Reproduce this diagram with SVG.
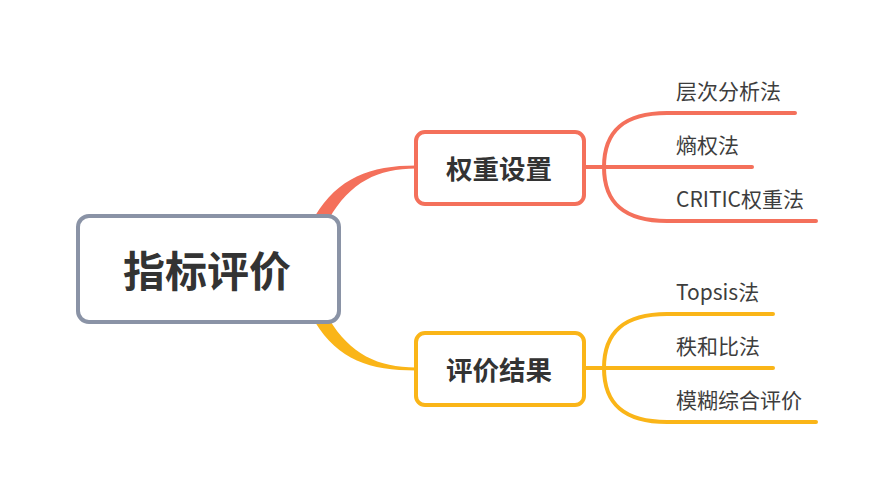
<svg xmlns="http://www.w3.org/2000/svg" width="891" height="499" viewBox="0 0 891 499">
<style>
text{font-family:"Noto Sans CJK SC","Noto Sans",sans-serif;fill:#333333}
.leaf{font-size:21px;fill:#3d3d3d}
.branch{font-size:26.5px;font-weight:bold;text-anchor:middle;dominant-baseline:central}
.root{font-size:42px;font-weight:bold;text-anchor:middle;dominant-baseline:central}
.r{stroke:#F4705B;fill:none;stroke-width:4;stroke-linecap:round}
.y{stroke:#FAB518;fill:none;stroke-width:4;stroke-linecap:round}
</style>
<rect width="891" height="499" fill="#ffffff"/>
<g id="connectors">
<path d="M315,216 C338,178 370,165.5 416,165.5 L416,168.5 C378,168.5 350,182 329,219 Z" fill="#F4705B"/>
<path d="M315,322 C338,360 370,370.5 416,370.5 L416,367.5 C378,367.5 350,354 329,319 Z" fill="#FAB518"/>
<path class="r" d="M585,167 L752,167"/>
<path class="r" d="M604,167 C604,130 625,113 667,113 L795,113"/>
<path class="r" d="M604,167 C604,204 625,221 667,221 L816,221"/>
<path class="y" d="M585,368 L773,368"/>
<path class="y" d="M604,368 C604,331 625,314 667,314 L773,314"/>
<path class="y" d="M604,368 C604,405 625,422 667,422 L816,422"/>
</g>
<g id="root">
<rect x="78" y="216" width="261" height="106" rx="11" fill="#ffffff" stroke="#8A93A6" stroke-width="4"/>
<text class="root" x="207" y="268">指标评价</text>
</g>
<g id="n-weight">
<rect x="416" y="132" width="168" height="72" rx="9" fill="#ffffff" stroke="#F4705B" stroke-width="4"/>
<text class="branch" x="499" y="167">权重设置</text>
</g>
<g id="n-result">
<rect x="416" y="333" width="168" height="72" rx="9" fill="#ffffff" stroke="#FAB518" stroke-width="4"/>
<text class="branch" x="499" y="368">评价结果</text>
</g>
<g id="leaf-ahp"><text class="leaf" x="676" y="99">层次分析法</text></g>
<g id="leaf-entropy"><text class="leaf" x="676" y="153">熵权法</text></g>
<g id="leaf-critic"><text class="leaf" x="676" y="207">CRITIC权重法</text></g>
<g id="leaf-topsis"><text class="leaf" x="676" y="300">Topsis法</text></g>
<g id="leaf-rsr"><text class="leaf" x="676" y="354">秩和比法</text></g>
<g id="leaf-fuzzy"><text class="leaf" x="676" y="408">模糊综合评价</text></g>
</svg>
